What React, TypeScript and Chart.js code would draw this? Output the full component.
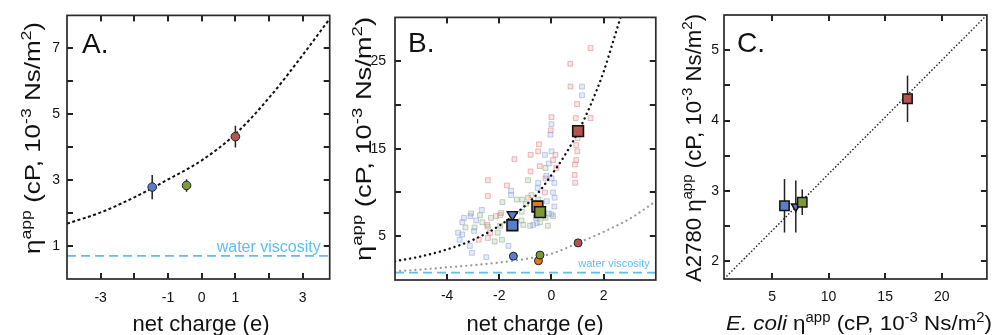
import React, { useEffect, useRef } from 'react';
import { Chart, registerables } from 'chart.js';
Chart.register(...registerables);

const FONT = '"Liberation Sans", Arial, Helvetica, sans-serif';
const BLUE = '#5b7fc6';
const GREEN = '#7b9a36';
const RED = '#b5544c';
const ORANGE = '#e0781e';
const WATER = '#5dbdf4';
const INK = '#111';

// ---------------- Panel A ----------------
const aXRange = [-4, 3.8];
const aYRange = [0, 8];
const aCharge = [-1.47, -0.45, 1.0];
const aEta = [2.79, 2.84, 4.32];
const aEtaErr = [0.37, 0.19, 0.33];
const aColors = [BLUE, GREEN, RED];
const aFitCharge = [-4, -3, -2, -1, 0, 1, 2, 3, 3.8];
const aFitEta = [1.68, 2.02, 2.48, 3.02, 3.6, 4.4, 5.5, 6.8, 7.9];
const aWaterEta = 0.7;
const aXTickLabels = [-3, -1, 0, 1, 3];
const aYTickLabels = [1, 3, 5, 7];

// ---------------- Panel B ----------------
const bXRange = [-6, 4];
const bYRange = [0, 30];
const bXTickLabels = [-4, -2, 0, 2];
const bYTickLabels = [5, 15, 25];
const bRedX = [1.5, 0.72, 0.73, 0.98, 1.5, 0.93, 0.0, -0.03, 0.95, 0.99, 0.95, 0.89, 0.91, -0.48, -0.51, -0.8, -1.42, 0.15, 0.06, 0.19, -0.45, -0.8, -0.23, -2.44, -1.71, -0.25, -2.44, -0.9, -1.93, -2.13, -2.47, -2.35, -2.79, -2.44, 1.0, 0.9];
const bRedY = [26.5, 24.7, 22.1, 20.1, 18.5, 18.5, 18.6, 17.1, 15.4, 14.7, 13.7, 12.0, 11.1, 15.5, 14.7, 14.3, 13.8, 14.3, 13.7, 12.8, 13.0, 12.4, 11.6, 11.4, 10.8, 10.0, 9.6, 9.4, 7.65, 7.3, 6.3, 5.4, 4.6, 4.8, 16.2, 13.2];
const bBlueX = [1.17, 1.17, 0.0, -0.04, 0.0, -0.25, -0.1, -0.2, 0.0, 0.11, -0.51, -0.53, 0.06, 0.12, 0.11, 0.0, -0.6, -1.55, -1.55, -2.67, -3.11, -3.36, -2.89, -3.42, -3.58, -3.42, -3.52, -2.97, -3.13, -3.05, -2.5, -1.65, -0.51, -0.56, -0.7, -0.18, -0.1];
const bBlueY = [22.1, 21.1, 17.8, 16.6, 14.7, 14.3, 13.3, 11.9, 11.6, 11.1, 11.1, 10.5, 10.0, 9.4, 8.4, 7.5, 7.1, 10.2, 9.7, 8.0, 7.3, 7.1, 6.8, 6.6, 5.4, 5.2, 4.6, 5.6, 3.9, 3.1, 2.6, 3.9, 8.2, 6.5, 6.3, 9.0, 7.6];
const bGreenX = [-0.23, -0.9, -1.33, -1.12, -0.98, -1.88, -1.14, -1.97, -2.32, -2.74, -3.08, -2.65, -2.44, -1.97, -2.06, -1.9, -2.18, -2.95, -3.3, -1.08, -0.82, -1.15, -0.23, -0.14, -0.44, 0.06, -0.77, -0.51];
const bGreenY = [12.8, 11.4, 9.2, 9.2, 8.7, 8.9, 7.8, 7.4, 7.1, 7.4, 7.6, 6.6, 6.1, 6.2, 5.4, 4.6, 4.4, 6.0, 6.0, 6.3, 6.2, 6.8, 7.1, 6.2, 6.6, 7.3, 9.7, 9.2];
// E. coli means (squares) and triangle
const bSqX = [-1.5, -0.54, -0.44, 1.02];
const bSqY = [6.25, 8.4, 7.75, 17.0];
const bSqColors = [BLUE, ORANGE, GREEN, RED];
const bTriX = [-1.5];
const bTriY = [7.47];
// A2780 means (circles)
const bCircX = [-1.46, -0.5, -0.44, 1.02];
const bCircY = [2.72, 2.2, 2.85, 4.24];
const bCircColors = [BLUE, ORANGE, GREEN, RED];
const bFitX = [-6, -5, -4, -3, -2, -1, -0.5, 0, 0.5, 1, 1.5, 2, 2.4, 2.75];
const bFitY = [2.15, 2.7, 3.5, 4.6, 6.2, 8.5, 10.0, 12.0, 14.2, 16.8, 20.0, 23.8, 27.6, 31];
const bFit2X = [-6, -5, -4, -3, -2, -1, 0, 1, 2, 3, 4];
const bFit2Y = [1.0, 1.2, 1.45, 1.7, 2.0, 2.4, 3.0, 4.2, 5.5, 7.0, 9.0];
const bWaterEta = 0.85;

// ---------------- Panel C ----------------
const cXRange = [0.75, 24];
const cYRange = [1.75, 5.5];
const cXTickLabels = [5, 10, 15, 20];
const cYTickLabels = [2, 3, 4, 5];
const cEcoli = [6.1, 7.1, 7.67, 16.98];
const cA2780 = [2.79, 2.78, 2.84, 4.31];
const cErr = [0.38, 0.37, 0.18, 0.33];
const cColors = [BLUE, BLUE, GREEN, RED];
const cStyles = ['rect', 'triangle', 'rect', 'rect'];
const cLineX = [0.75, 24];
const cLineY = [1.75, 5.5];

type Seg = { t: string; sup?: boolean; it?: boolean };

function drawRich(ctx: CanvasRenderingContext2D, segs: Seg[], x: number, y: number, size: number, rotate: boolean, align: 'center' | 'left', targetLen?: number) {
  const supSize = Math.round(size * 0.68);
  const fontFor = (s: Seg) => `${s.it ? 'italic ' : ''}${s.sup ? supSize : size}px ${FONT}`;
  ctx.save();
  ctx.translate(x, y);
  if (rotate) ctx.rotate(-Math.PI / 2);
  const widths = segs.map((s) => { ctx.font = fontFor(s); return ctx.measureText(s.t).width; });
  const total = widths.reduce((a, b) => a + b, 0);
  if (targetLen) ctx.scale(targetLen / total, 1);
  let cx = align === 'center' ? -total / 2 : 0;
  ctx.fillStyle = INK;
  ctx.textBaseline = 'alphabetic';
  ctx.textAlign = 'left';
  segs.forEach((s, i) => {
    ctx.font = fontFor(s);
    ctx.fillText(s.t, cx, s.sup ? -size * 0.4 : 0);
    cx += widths[i];
  });
  ctx.restore();
}

function plainText(ctx: CanvasRenderingContext2D, t: string, x: number, y: number, size: number, color: string, align: CanvasTextAlign) {
  ctx.save();
  ctx.font = `${size}px ${FONT}`;
  ctx.fillStyle = color;
  ctx.textAlign = align;
  ctx.textBaseline = 'alphabetic';
  ctx.fillText(t, x, y);
  ctx.restore();
}

const etaUnits: Seg[] = [
  { t: 'η' }, { t: 'app', sup: true }, { t: ' (cP, 10' }, { t: '-3', sup: true }, { t: ' Ns/m' }, { t: '2', sup: true }, { t: ')' },
];

function tickValues(min: number, max: number, step: number) {
  const out: number[] = [];
  const n0 = Math.ceil(min / step - 1e-9);
  const n1 = Math.floor(max / step + 1e-9);
  for (let n = n0; n <= n1; n++) out.push(n * step);
  return out;
}

function framePlugin(xr: number[], yr: number[], xStep: number, yStep: number, draw: (ctx: CanvasRenderingContext2D, a: any) => void) {
  const xv = tickValues(xr[0], xr[1], xStep);
  const yv = tickValues(yr[0], yr[1], yStep);
  return {
    id: 'frameTicks',
    afterDraw(chart: any) {
      const ctx: CanvasRenderingContext2D = chart.ctx;
      const a = chart.chartArea;
      const xs = chart.scales.x;
      const ys = chart.scales.y;
      const left = a.left, right = a.right, top = a.top, bottom = a.bottom;
      const L = 6;
      const W = 2;
      ctx.save();
      ctx.setLineDash([]);
      ctx.globalAlpha = 1;
      ctx.globalCompositeOperation = 'source-over';
      ctx.fillStyle = '#222222';
      for (let i = 0; i < xv.length; i++) {
        const p = xs.getPixelForValue(xv[i]);
        if (p - left < 2 || right - p < 2) continue;
        ctx.fillRect(Math.round(p - W / 2), bottom - L, W, L);
        ctx.fillRect(Math.round(p - W / 2), top, W, L);
      }
      for (let i = 0; i < yv.length; i++) {
        const p = ys.getPixelForValue(yv[i]);
        if (p - top < 2 || bottom - p < 2) continue;
        ctx.fillRect(left, Math.round(p - W / 2), L, W);
        ctx.fillRect(right - L, Math.round(p - W / 2), L, W);
      }
      ctx.strokeStyle = '#2a2a2a';
      ctx.lineWidth = 1.7;
      ctx.strokeRect(left, top, right - left, bottom - top);
      ctx.restore();
      draw(ctx, a);
    },
  };
}

const has = (list: number[], v: number) => list.some((l) => Math.abs(l - v) < 1e-6);

function makeOptions(p: any) {
  return {
    responsive: false,
    animation: false,
    devicePixelRatio: 1,
    events: [],
    layout: { padding: { left: 0, right: p.padRight, top: 15, bottom: 0 } },
    plugins: { legend: { display: false }, tooltip: { enabled: false } },
    scales: {
      x: {
        type: 'linear',
        min: p.xRange[0],
        max: p.xRange[1],
        afterFit: (s: any) => { s.height = p.xAxisH; },
        grid: { display: false, drawTicks: false },
        border: { display: false },
        ticks: {
          stepSize: p.xStep,
          includeBounds: false,
          padding: p.xPad,
          autoSkip: false,
          maxRotation: 0,
          color: INK,
          font: { family: FONT, size: 14 },
          callback: (v: number) => (has(p.xLabels, v) ? String(v) : ''),
        },
      },
      y: {
        type: 'linear',
        min: p.yRange[0],
        max: p.yRange[1],
        afterFit: (s: any) => { s.width = p.yAxisW; },
        grid: { display: false, drawTicks: false },
        border: { display: false },
        ticks: {
          stepSize: p.yStep,
          includeBounds: false,
          padding: p.yPad,
          autoSkip: false,
          color: INK,
          font: { family: FONT, size: 14 },
          callback: (v: number) => (has(p.yLabels, v) ? String(v) : ''),
        },
      },
    },
  };
}

const pts = (xs: number[], ys: number[]) => xs.map((x, i) => ({ x, y: ys[i] }));

function errorBars(xs: number[], ys: number[], errs: number[], width: number) {
  return xs.map((x, i) => ({
    data: [{ x, y: ys[i] - errs[i] }, { x, y: ys[i] + errs[i] }],
    showLine: true,
    borderColor: '#222',
    borderWidth: width,
    pointRadius: 0,
    order: 2,
  }));
}

function lineDs(xs: number[], ys: number[], color: string, width: number, dash: number[], smooth: boolean, cap: string = 'butt') {
  return {
    data: pts(xs, ys),
    showLine: true,
    borderColor: color,
    borderWidth: width,
    borderDash: dash,
    borderCapStyle: cap,
    pointRadius: 0,
    tension: smooth ? 0.4 : 0,
    cubicInterpolationMode: smooth ? 'monotone' : 'default',
    order: 3,
  };
}

function bgDs(xs: number[], ys: number[], rgb: string) {
  return {
    data: pts(xs, ys),
    pointStyle: 'rect',
    pointRadius: 3.4,
    backgroundColor: `rgba(${rgb},0.2)`,
    borderColor: `rgba(${rgb},0.5)`,
    borderWidth: 1,
    order: 5,
  };
}

function configA() {
  return {
    type: 'scatter',
    data: {
      datasets: [
        {
          data: pts(aCharge, aEta),
          pointStyle: 'circle',
          pointRadius: 4.3,
          backgroundColor: aColors,
          borderColor: '#222',
          borderWidth: 1,
          order: 0,
        },
        ...errorBars(aCharge, aEta, aEtaErr, 1.5),
        lineDs(aFitCharge, aFitEta, '#111', 2, [3, 2.5], true),
        lineDs(aXRange, [aWaterEta, aWaterEta], WATER, 1.8, [9, 5], false),
      ],
    },
    options: makeOptions({ xRange: aXRange, yRange: aYRange, xStep: 1, yStep: 1, xLabels: aXTickLabels, yLabels: aYTickLabels, xAxisH: 56, yAxisW: 67, padRight: 5, xPad: 11, yPad: 7 }),
    plugins: [framePlugin(aXRange, aYRange, 1, 1, (ctx, a) => {
      drawRich(ctx, etaUnits, 40, 138, 22, true, 'center', 232);
      plainText(ctx, 'net charge (e)', 201, 331, 22, INK, 'center');
      plainText(ctx, 'A.', 82, 53, 28, INK, 'left');
      plainText(ctx, 'water viscosity', a.right - 9, 252, 16, WATER, 'right');
    })],
  };
}

function configB() {
  return {
    type: 'scatter',
    data: {
      datasets: [
        {
          data: pts(bSqX, bSqY),
          pointStyle: 'rect',
          pointRadius: 7.6,
          backgroundColor: bSqColors,
          borderColor: '#111',
          borderWidth: 1.6,
          order: 0,
        },
        {
          data: pts(bTriX, bTriY),
          pointStyle: 'triangle',
          rotation: 180,
          pointRadius: 6,
          backgroundColor: BLUE,
          borderColor: '#111',
          borderWidth: 1.3,
          order: 1,
        },
        {
          data: pts(bCircX, bCircY),
          pointStyle: 'circle',
          pointRadius: 4,
          backgroundColor: bCircColors,
          borderColor: '#222',
          borderWidth: 1,
          order: 0,
        },
        lineDs(bFitX, bFitY, '#111', 2.4, [0.1, 5], true, 'round'),
        lineDs(bFit2X, bFit2Y, '#9a9a9a', 2.2, [0.1, 5], true, 'round'),
        lineDs(bXRange, [bWaterEta, bWaterEta], WATER, 1.8, [9, 5], false),
        bgDs(bRedX, bRedY, '215,125,125'),
        bgDs(bBlueX, bBlueY, '135,155,225'),
        bgDs(bGreenX, bGreenY, '135,170,125'),
      ],
    },
    options: makeOptions({ xRange: bXRange, yRange: bYRange, xStep: 2, yStep: 5, xLabels: bXTickLabels, yLabels: bYTickLabels, xAxisH: 55, yAxisW: 60, padRight: 7, xPad: 8, yPad: 9 }),
    plugins: [framePlugin(bXRange, bYRange, 2, 5, (ctx, a) => {
      drawRich(ctx, etaUnits, 36, 139, 22, true, 'center', 244);
      plainText(ctx, 'net charge (e)', 200, 331, 22, INK, 'center');
      plainText(ctx, 'B.', 73, 52, 28, INK, 'left');
      plainText(ctx, 'water viscosity', a.right - 6, 267, 11, WATER, 'right');
    })],
  };
}

function configC() {
  return {
    type: 'scatter',
    data: {
      datasets: [
        {
          data: pts(cEcoli, cA2780),
          pointStyle: cStyles,
          rotation: [0, 180, 0, 0],
          pointRadius: [6.6, 5, 6.6, 6.6],
          backgroundColor: cColors,
          borderColor: '#111',
          borderWidth: 1.5,
          order: 0,
        },
        ...errorBars(cEcoli, cA2780, cErr, 1.5),
        lineDs(cLineX, cLineY, '#222', 1.4, [1.5, 2], false),
      ],
    },
    options: makeOptions({ xRange: cXRange, yRange: cYRange, xStep: 5, yStep: 0.5, xLabels: cXTickLabels, yLabels: cYTickLabels, xAxisH: 56, yAxisW: 59, padRight: 7, xPad: 10, yPad: 5 }),
    plugins: [framePlugin(cXRange, cYRange, 5, 0.5, (ctx) => {
      drawRich(ctx, [{ t: 'A2780 ' }, ...etaUnits], 36, 148, 22, true, 'center', 268);
      drawRich(ctx, [{ t: 'E. coli', it: true }, { t: ' ' }, ...etaUnits], 194, 330, 21, false, 'center', 266);
      plainText(ctx, 'C.', 72, 52, 28, INK, 'left');
    })],
  };
}

function Panel({ left, width, make }: { left: number; width: number; make: () => any }) {
  const ref = useRef<HTMLCanvasElement>(null);
  useEffect(() => {
    const chart = new Chart(ref.current as HTMLCanvasElement, make());
    return () => chart.destroy();
  }, []);
  return (
    <canvas
      ref={ref}
      width={width}
      height={335}
      style={{ position: 'absolute', left, top: 0, width, height: 335 }}
    />
  );
}

export default function App() {
  return (
    <div style={{ position: 'absolute', left: 0, top: 0, width: 995, height: 335, background: '#fff', overflow: 'hidden' }}>
      <Panel left={0} width={335} make={configA} />
      <Panel left={335} width={330} make={configB} />
      <Panel left={665} width={330} make={configC} />
    </div>
  );
}
